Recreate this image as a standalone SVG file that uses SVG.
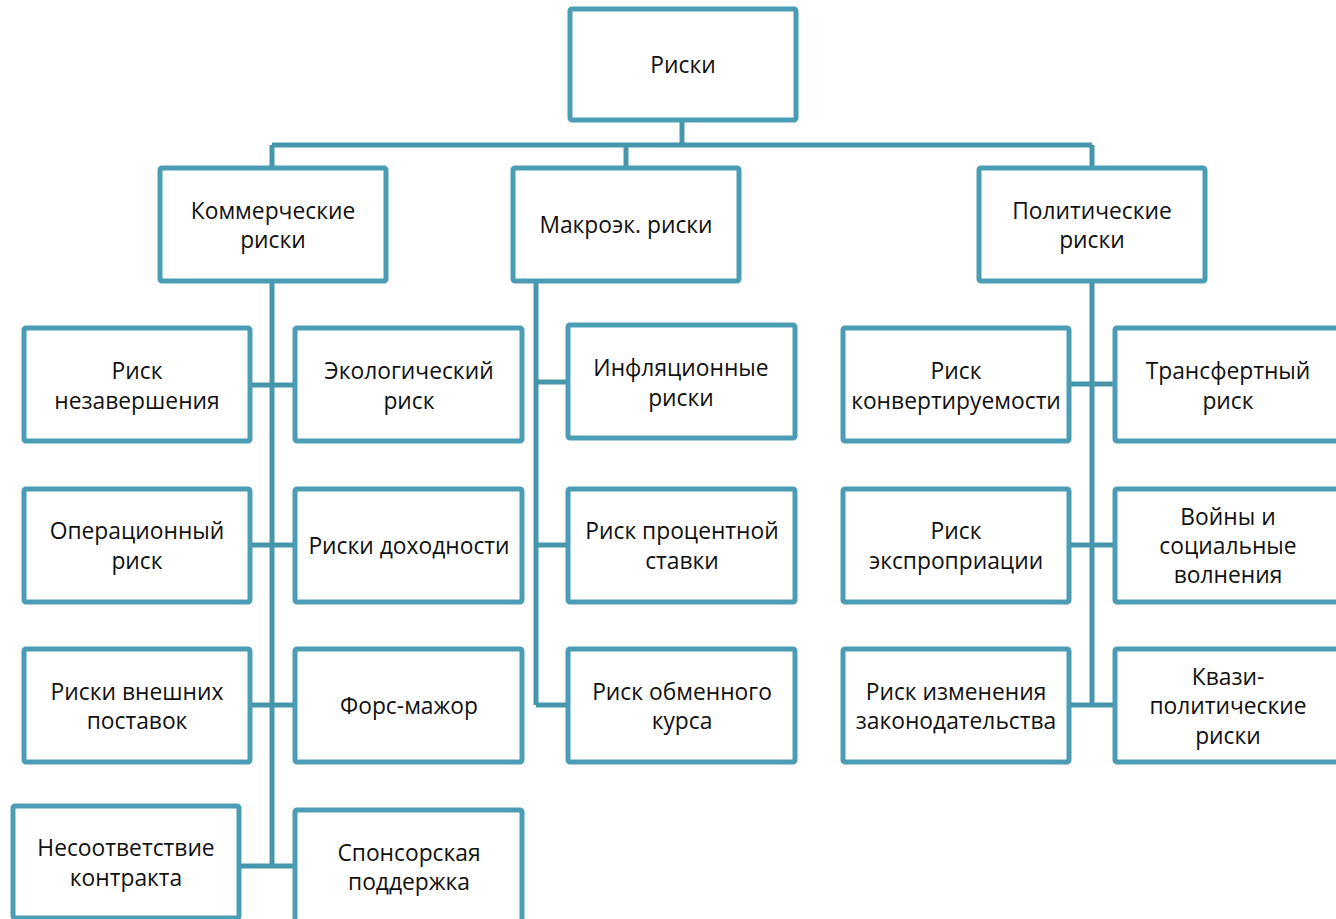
<svg xmlns="http://www.w3.org/2000/svg" width="1336" height="919" viewBox="0 0 1336 919">
<style>
.b{fill:#fff;stroke:#4a9db5;stroke-width:5}
.c{fill:none;stroke:#4595ab;stroke-width:5;stroke-linejoin:round}
text{font-family:"Open Sans","Noto Sans",sans-serif;font-size:22.8px;fill:#111;text-anchor:middle;dominant-baseline:central}
</style>
<rect width="1336" height="919" fill="#fff"/>
<g id="connectors">
<path class="c" d="M682 120V145M272 145H1092M272 145V168M626 145V168M1092 145V168"/>
<path class="c" d="M272 281V866M250 385H295M250 545H295M250 705H295M239 866H295"/>
<path class="c" d="M536 281V705M536 382H568M536 545H568M536 705H568"/>
<path class="c" d="M1092 281V705M1069 384H1115M1069 545H1115M1069 705H1115"/>
</g>
<g id="root"><rect class="b" x="570" y="9" width="226" height="111" rx="2"/><text x="683" y="64">Риски</text></g>
<g id="commercial"><rect class="b" x="160" y="168" width="226" height="113" rx="2"/><text x="273" y="210">Коммерческие</text><text x="273" y="239">риски</text></g>
<g id="macro"><rect class="b" x="513" y="168" width="226" height="113" rx="2"/><text x="626" y="224">Макроэк. риски</text></g>
<g id="political"><rect class="b" x="979" y="168" width="226" height="113" rx="2"/><text x="1092" y="210">Политические</text><text x="1092" y="239">риски</text></g>

<g id="c1"><rect class="b" x="24" y="328" width="226" height="113" rx="2"/><text x="137" y="370">Риск</text><text x="137" y="400">незавершения</text></g>
<g id="c2"><rect class="b" x="295" y="328" width="227" height="113" rx="2"/><text x="409" y="370">Экологический</text><text x="409" y="400">риск</text></g>
<g id="c3"><rect class="b" x="24" y="489" width="226" height="113" rx="2"/><text x="137" y="530">Операционный</text><text x="137" y="560">риск</text></g>
<g id="c4"><rect class="b" x="295" y="489" width="227" height="113" rx="2"/><text x="409" y="545">Риски доходности</text></g>
<g id="c5"><rect class="b" x="24" y="649" width="226" height="113" rx="2"/><text x="137" y="691">Риски внешних</text><text x="137" y="720">поставок</text></g>
<g id="c6"><rect class="b" x="295" y="649" width="227" height="113" rx="2"/><text x="409" y="705">Форс-мажор</text></g>
<g id="c7"><rect class="b" x="13" y="806" width="226" height="112" rx="2"/><text x="126" y="847">Несоответствие</text><text x="126" y="877">контракта</text></g>
<g id="c8"><rect class="b" x="295" y="810" width="227" height="113" rx="2"/><text x="409" y="852">Спонсорская</text><text x="409" y="881">поддержка</text></g>

<g id="m1"><rect class="b" x="568" y="325" width="227" height="113" rx="2"/><text x="681" y="367">Инфляционные</text><text x="681" y="397">риски</text></g>
<g id="m2"><rect class="b" x="568" y="489" width="227" height="113" rx="2"/><text x="682" y="530">Риск процентной</text><text x="682" y="560">ставки</text></g>
<g id="m3"><rect class="b" x="568" y="649" width="227" height="113" rx="2"/><text x="682" y="691">Риск обменного</text><text x="682" y="720">курса</text></g>

<g id="p1"><rect class="b" x="843" y="328" width="226" height="113" rx="2"/><text x="956" y="370">Риск</text><text x="956" y="400">конвертируемости</text></g>
<g id="p2"><rect class="b" x="1115" y="328" width="226" height="113" rx="2"/><text x="1228" y="370">Трансфертный</text><text x="1228" y="400">риск</text></g>
<g id="p3"><rect class="b" x="843" y="489" width="226" height="113" rx="2"/><text x="956" y="530">Риск</text><text x="956" y="560">экспроприации</text></g>
<g id="p4"><rect class="b" x="1115" y="489" width="226" height="113" rx="2"/><text x="1228" y="516">Войны и</text><text x="1228" y="545">социальные</text><text x="1228" y="574">волнения</text></g>
<g id="p5"><rect class="b" x="843" y="649" width="226" height="113" rx="2"/><text x="956" y="691">Риск изменения</text><text x="956" y="720">законодательства</text></g>
<g id="p6"><rect class="b" x="1115" y="649" width="226" height="113" rx="2"/><text x="1228" y="676">Квази-</text><text x="1228" y="705">политические</text><text x="1228" y="735">риски</text></g>
</svg>
